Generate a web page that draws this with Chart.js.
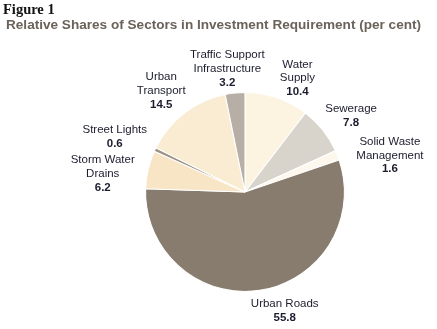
<!DOCTYPE html>
<html>
<head>
<meta charset="utf-8">
<script src="https://cdn.jsdelivr.net/npm/chart.js@4"></script>
<style>
  html, body { margin: 0; padding: 0; background: #fff; }
  #wrap { position: relative; width: 437px; height: 329px; overflow: hidden; }
  #fig { position: absolute; left: 3px; top: 1px; font: bold 14.5px "Liberation Serif", serif; color: #111; }
  #sub { position: absolute; left: 6px; top: 18px; font: bold 12.5px "Liberation Sans", Arial, sans-serif;
         color: #6b6259; white-space: nowrap; transform-origin: 0 0; }
  canvas { position: absolute; left: 0; top: 0; }
</style>
</head>
<body>
<div id="wrap">
  <canvas id="myChart" width="437" height="329"></canvas>
  <div id="fig">Figure 1</div>
  <div id="sub">Relative Shares of Sectors in Investment Requirement (per cent)</div>
</div>
<script>
// data (clockwise from 12 o'clock)
const sectors = [
  ['Water', 'Supply'],
  ['Sewerage'],
  ['Solid Waste', 'Management'],
  ['Urban Roads'],
  ['Storm Water', 'Drains'],
  ['Street Lights'],
  ['Urban', 'Transport'],
  ['Traffic Support', 'Infrastructure']
];
const shares = [10.4, 7.8, 1.6, 55.8, 6.2, 0.6, 14.5, 3.2];
const sliceColors = ['#fcf3e1', '#d8d4cc', '#fdf7ee', '#877c6d', '#f8e5c5', '#9d9487', '#f9ecd3', '#b7aea5'];

// fit subtitle to its width in the figure
const sub = document.getElementById('sub');
sub.style.transform = 'scaleX(' + (415 / sub.offsetWidth) + ')';

// labels sit outside each slice, nudged a little like the original
const labelPlugin = {
    id: 'sliceLabels',
    afterDatasetsDraw(chart, args, opts) {
        const c = chart.ctx;
        const meta = chart.getDatasetMeta(0);
        c.save();
        c.textAlign = 'center';
        c.textBaseline = 'middle';
        meta.data.forEach((arc, i) => {
            const mid = (arc.startAngle + arc.endAngle) / 2 + opts.shift[i] * Math.PI / 180;
            const d = arc.outerRadius + opts.gap[i];
            const x = arc.x + Math.cos(mid) * d;
            const lines = sectors[i].concat([String(shares[i])]);
            const lh = 13.7;
            let y = arc.y + Math.sin(mid) * d - (lines.length - 1) * lh / 2;
            lines.forEach((t, k) => {
                const last = k === lines.length - 1;
                c.font = (last ? 'bold ' : '') + '11.5px "Liberation Sans", Arial, sans-serif';
                c.fillStyle = '#1c1c2e';
                c.fillText(t, x, y + k * lh);
            });
        });
        c.restore();
    }
};

const ctx = document.getElementById('myChart');

new Chart(ctx, {
    type: 'pie',
    data: {
        labels: sectors.map(s => s.join(' ')),
        datasets: [{
            data: shares,
            backgroundColor: sliceColors,
            borderColor: '#ffffff',
            borderWidth: 1.1
        }]
    },
    options: {
        responsive: false,
        animation: false,
        layout: { padding: { left: 145, right: 92, top: 92, bottom: 37 } },
        plugins: {
            legend: { display: false },
            tooltip: { enabled: false },
            sliceLabels: {
                shift: [6, 3, 7.5, -10, -5.7, -2.3, -2, -2.4],
                gap: [26, 31, 50, 26, 44, 42, 32, 25]
            }
        }
    },
    plugins: [labelPlugin]
});
</script>
</body>
</html>
